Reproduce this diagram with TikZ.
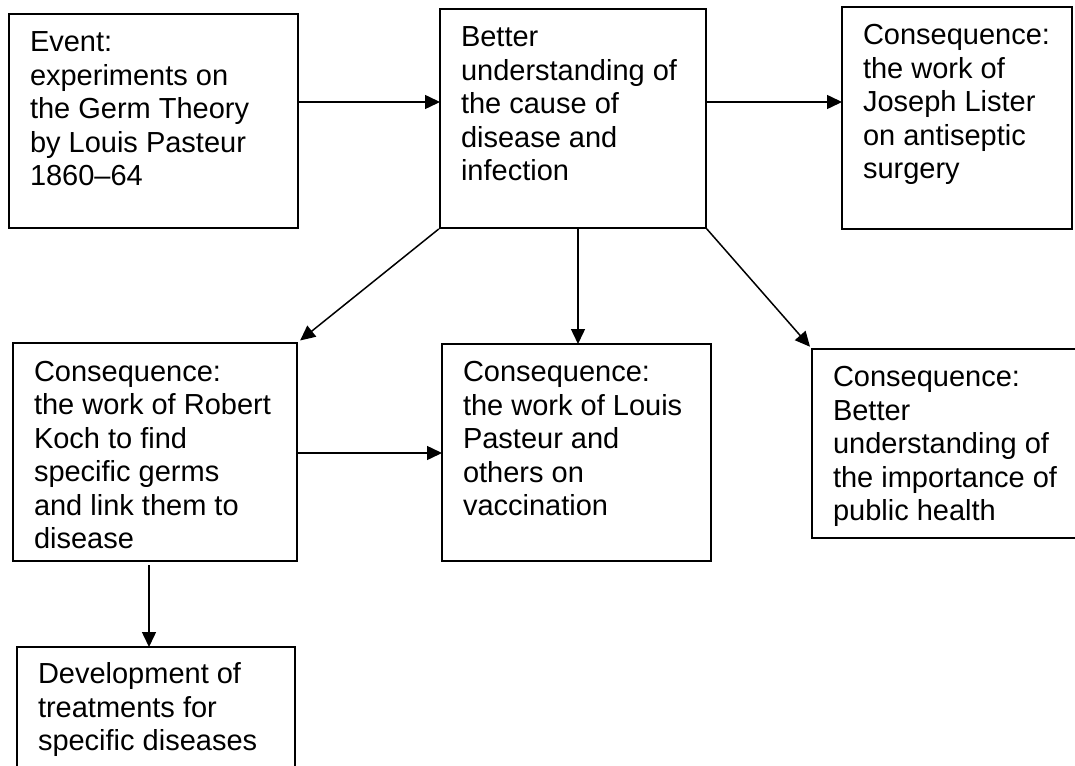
\documentclass[tikz,border=0pt]{standalone}
\usepackage{fontspec}
\setmainfont{Liberation Sans}
\usetikzlibrary{arrows.meta,calc}
\tikzset{
  box/.style={draw=black, line width=1.5pt, inner sep=0pt, outer sep=0pt, anchor=north west},
  txt/.style={inner sep=0pt, outer sep=0pt, anchor=north west, align=left,
              font=\fontsize{29}{33.5}\selectfont, text=black},
  arr/.style={draw=black, line width=1.5pt, -{Triangle[length=15pt,width=14pt]}}
}
\begin{document}
\begin{tikzpicture}[x=1pt,y=-1pt]
\useasboundingbox (0,0) rectangle (1075,765);
% boxes
\node[box, minimum width=289pt, minimum height=214pt] (A) at (9,14) {};
\node[box, minimum width=266pt, minimum height=219pt] (B) at (440,9) {};
\node[box, minimum width=230pt, minimum height=222pt] (C) at (842,7) {};
\node[box, minimum width=284pt, minimum height=218pt] (D) at (13,343) {};
\node[box, minimum width=269pt, minimum height=217pt] (E) at (442,344) {};
\node[box, minimum width=270pt, minimum height=189pt] (F) at (812,349) {};
\node[box, minimum width=278pt, minimum height=135pt] (G) at (17,647) {};
% texts
\node[txt] (At) at ($(A.north west)+(21,14.5)$) {\strut Event:\\experiments on\\the Germ Theory\\by Louis Pasteur\\1860–64};
\node[txt] (Bt) at ($(B.north west)+(21,14.5)$) {\strut Better\\understanding of\\the cause of\\disease and\\infection};
\node[txt] (Ct) at ($(C.north west)+(21,14.5)$) {\strut Consequence:\\the work of\\Joseph Lister\\on antiseptic\\surgery};
\node[txt] (Dt) at ($(D.north west)+(21,15)$) {\strut Consequence:\\the work of Robert\\Koch to find\\specific germs\\and link them to\\disease};
\node[txt] (Et) at ($(E.north west)+(21,14.5)$) {\strut Consequence:\\the work of Louis\\Pasteur and\\others on\\vaccination};
\node[txt] (Ft) at ($(F.north west)+(21,14.5)$) {\strut Consequence:\\Better\\understanding of\\the importance of\\public health};
\node[txt] (Gt) at ($(G.north west)+(21,13.5)$) {\strut Development of\\treatments for\\specific diseases};
% helper coordinates
\coordinate (r1) at (0,102);
\coordinate (r2) at (0,453);
\coordinate (c1) at (578,0);
\coordinate (c2) at (149,0);
% connectors
\draw[arr] (A.east |- r1) -- (B.west |- r1);
\draw[arr] (B.east |- r1) -- (C.west |- r1);
\draw[arr] (B.south -| c1) -- (E.north -| c1);
\draw[arr, shorten <=1.5pt, shorten >=4pt] (B.south west) -- (D.north east);
\draw[arr, shorten <=1pt, shorten >=3pt] (B.south east) -- (F.north west);
\draw[arr] (D.east |- r2) -- (E.west |- r2);
\draw[arr, shorten <=4pt] (D.south -| c2) -- (G.north -| c2);
\end{tikzpicture}
\end{document}
